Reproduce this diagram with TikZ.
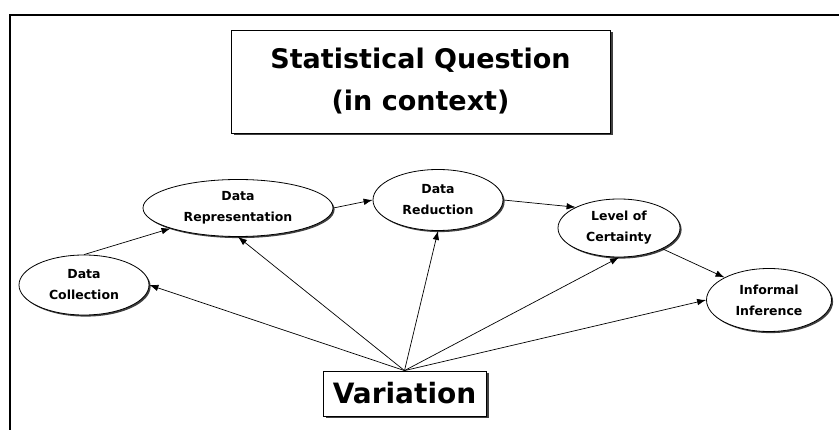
\documentclass[tikz,border=0pt]{standalone}
\usepackage{fontspec}
\setmainfont{DejaVu Sans}
\usepackage{tikz}
\usetikzlibrary{arrows.meta}
\usetikzlibrary{shapes.geometric}
\usetikzlibrary{shadows}

\begin{document}
\begin{tikzpicture}[x=1pt,y=-1pt,line width=0.8pt,
	bubble/.style={ellipse,draw,fill=white,inner sep=0pt,align=center,font=\bfseries\fontsize{12.5}{21}\selectfont,
		drop shadow={shadow xshift=1.6pt,shadow yshift=-1.6pt,fill=black!75,opacity=1}},
	banner/.style={rectangle,draw,fill=white,inner sep=0pt,align=center,
		drop shadow={shadow xshift=2.5pt,shadow yshift=-2.5pt,fill=black!75,opacity=1}},
	link/.style={-{Latex[length=9pt,width=6.5pt]},line width=0.7pt}]
	
	\useasboundingbox (0,0) rectangle (839,430);
	\draw[line width=1.5pt] (839,15) -- (10,15) -- (10,430);
	
	\node[banner,minimum width=379pt,minimum height=103pt,font=\bfseries\fontsize{27}{42}\selectfont] (question) at (420.5,81.5) {Statistical Question\\(in context)};
	\node[banner,minimum width=163pt,minimum height=45pt,font=\bfseries\fontsize{28}{30}\selectfont] (variation) at (404.5,393.5) {Variation};
	
	\node[bubble,minimum width=130pt,minimum height=60pt] (collection) at (84,285) {Data\\Collection};
	\node[bubble,minimum width=190pt,minimum height=57pt] (representation) at (238,208) {Data\\Representation};
	\node[bubble,minimum width=130pt,minimum height=61pt] (reduction) at (438,200) {Data\\Reduction};
	\node[bubble,minimum width=122pt,minimum height=58pt] (certainty) at (619,228) {Level of\\Certainty};
	\node[bubble,minimum width=125pt,minimum height=63pt] (inference) at (769,300) {Informal\\Inference};
	
	\draw[link] (collection.north) -- (representation.south west);
	\draw[link] (representation.east) -- (reduction.west);
	\draw[link] (reduction.east) -- (certainty.north west);
	\draw[link] (certainty.south east) -- (inference.north west);
	
	\draw[link] (variation.north) -- (collection.east);
	\draw[link] (variation.north) -- (representation.south);
	\draw[link] (variation.north) -- (reduction.south);
	\draw[link] (variation.north) -- (certainty.south);
	\draw[link] (variation.north) -- (inference.west);
\end{tikzpicture}
\end{document}
